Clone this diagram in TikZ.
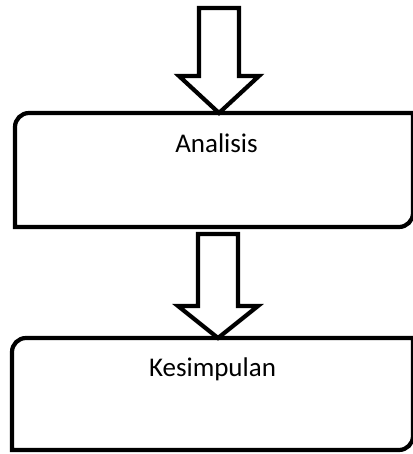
\documentclass[tikz,border=0pt]{standalone}
\usepackage{fontspec}
\setmainfont{Carlito}

% outline with rounded top-left and bottom-right corners
\newcommand{\diagbox}[1]{%
  \draw[boxline] (#1.north east) -- ([yshift=14pt]#1.south east)
    arc[start angle=0, end angle=-90, radius=14pt] -- (#1.south west)
    -- ([yshift=-14pt]#1.north west)
    arc[start angle=180, end angle=90, radius=14pt] -- cycle;}

% hollow block arrow: #1 top of shaft, #2 tip, #3 head length
\newcommand{\blockarrow}[3]{%
  \draw[arrowline] ([xshift=-20pt]#1) -- ([shift={(-20pt,#3)}]#2)
    -- ([shift={(-40pt,#3)}]#2) -- (#2) -- ([shift={(40pt,#3)}]#2)
    -- ([shift={(20pt,#3)}]#2) -- ([xshift=20pt]#1) -- cycle;}

\begin{document}
\begin{tikzpicture}[x=1pt, y=1pt,
    box/.style={rectangle, inner sep=0pt, outer sep=0pt},
    boxline/.style={line width=4.2pt},
    arrowline/.style={line width=4.2pt, fill=white},
    boxtext/.style={font=\fontsize{27pt}{32pt}\selectfont, anchor=base}]
    \useasboundingbox (0,0) rectangle (412,454);

    % Boxes
    \node[box, minimum width=398pt, minimum height=114pt] (analisis) at (214,284) {};
    \node[box, minimum width=401pt, minimum height=112pt] (kesimpulan) at (212.5,60) {};
    \diagbox{analisis}
    \diagbox{kesimpulan}

    % Labels
    \node[boxtext] (analisis-text) at ([shift={(2.5pt,-40pt)}]analisis.north) {Analisis};
    \node[boxtext] (kesimpulan-text) at ([yshift=-39pt]kesimpulan.north) {Kesimpulan};

    % Arrows
    \coordinate (start) at (219,446);
    \coordinate (tip1) at ([xshift=5pt]analisis.north);
    \coordinate (out1) at ([shift={(4pt,-7pt)}]analisis.south);
    \coordinate (tip2) at ([xshift=5.5pt]kesimpulan.north);
    \blockarrow{start}{tip1}{37pt}
    \blockarrow{out1}{tip2}{32pt}
\end{tikzpicture}
\end{document}
